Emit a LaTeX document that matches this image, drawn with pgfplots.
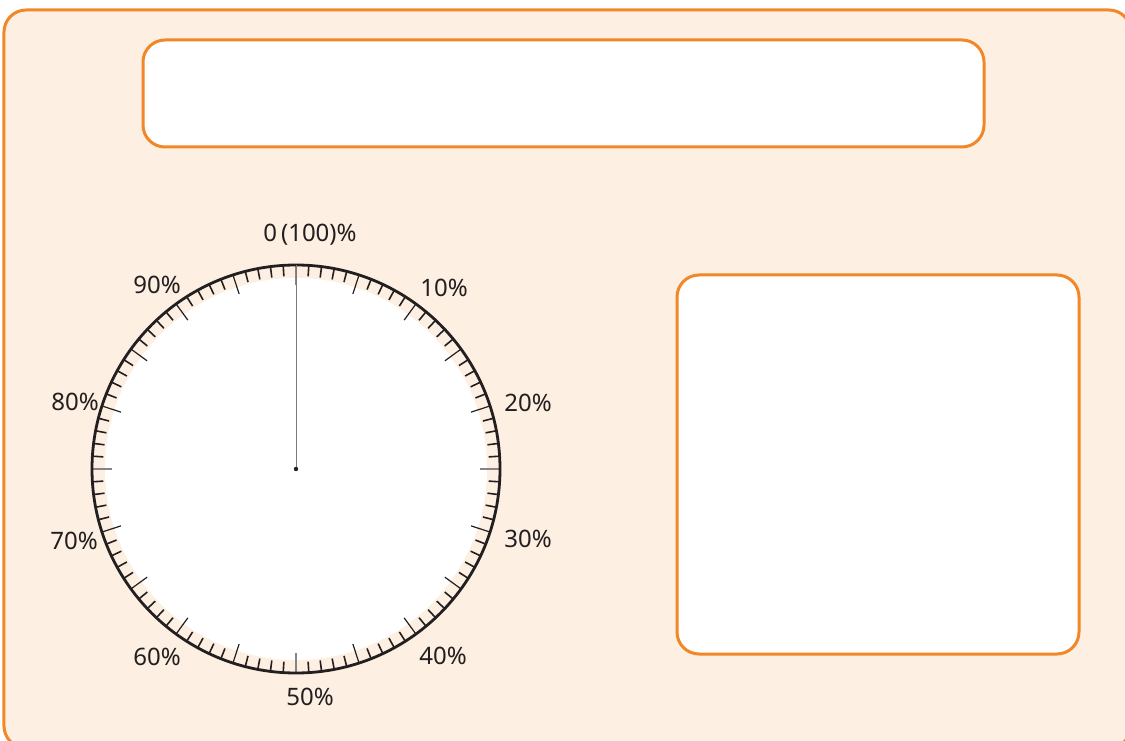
\documentclass[border=0pt]{standalone}
\usepackage{fontspec}
\setmainfont{Noto Sans}
\usepackage{pgfplots}
\pgfplotsset{compat=1.18}
\definecolor{frameor}{RGB}{242,135,40}
\definecolor{bgpeach}{RGB}{253,239,226}
\definecolor{ink}{RGB}{35,31,32}
\tikzset{lbl/.style={font=\fontsize{12}{14}\selectfont, text=ink, inner sep=0pt}}
\begin{document}
\begin{tikzpicture}
\begin{axis}[scale only axis, width=562.5pt, height=370pt,
  xmin=0, xmax=1125, ymin=0, ymax=740, hide axis, clip mode=global]
\draw[frameor, line width=1.5pt, fill=bgpeach, rounded corners=11pt] (axis cs:4,730) rectangle (axis cs:1131,-8);
\draw[frameor, line width=1.5pt, fill=white, rounded corners=11pt] (axis cs:143,700) rectangle (axis cs:984,593);
\draw[frameor, line width=1.5pt, fill=white, rounded corners=11pt] (axis cs:677,465) rectangle (axis cs:1079,86);
\coordinate (C) at (axis cs:296,271);
\node[lbl] at (axis cs:310,505) {0\,(100)\%};
\node[lbl] at (axis cs:444,452) {10\%};
\node[lbl] at (axis cs:528,337) {20\%};
\node[lbl] at (axis cs:528,201) {30\%};
\node[lbl] at (axis cs:443,84) {40\%};
\node[lbl] at (axis cs:310,43) {50\%};
\node[lbl] at (axis cs:157,83) {60\%};
\node[lbl] at (axis cs:74,199) {70\%};
\node[lbl] at (axis cs:75,338) {80\%};
\node[lbl] at (axis cs:157,455) {90\%};
\end{axis}
\begin{scope}[shift={(C)}]
  \fill[white] (0,0) circle[radius=95.5pt];
  \foreach \i in {0,...,99}{
    \pgfmathtruncatemacro{\m}{mod(\i,5)}
    \pgfmathtruncatemacro{\q}{mod(\i,25)}
    \ifnum\m=0
      \ifnum\q=0
        \draw[ink!55, line width=0.6pt] ({90-3.6*\i}:102pt) -- ({90-3.6*\i}:92pt);
      \else
        \draw[ink, line width=0.6pt] ({90-3.6*\i}:102pt) -- ({90-3.6*\i}:92pt);
      \fi
    \else
      \draw[ink, line width=0.8pt] ({90-3.6*\i}:102pt) -- ({90-3.6*\i}:96.5pt);
    \fi
  }
  \draw[ink, line width=1.4pt] (0,0) circle[radius=102pt];
  \draw[ink!60, line width=0.5pt] (0,0) -- (90:102pt);
  \fill[ink] (0,0) circle[radius=1.1pt];
\end{scope}
\pgfresetboundingbox
\path[use as bounding box] (current axis.south west) rectangle (current axis.north east);
\end{tikzpicture}
\end{document}
